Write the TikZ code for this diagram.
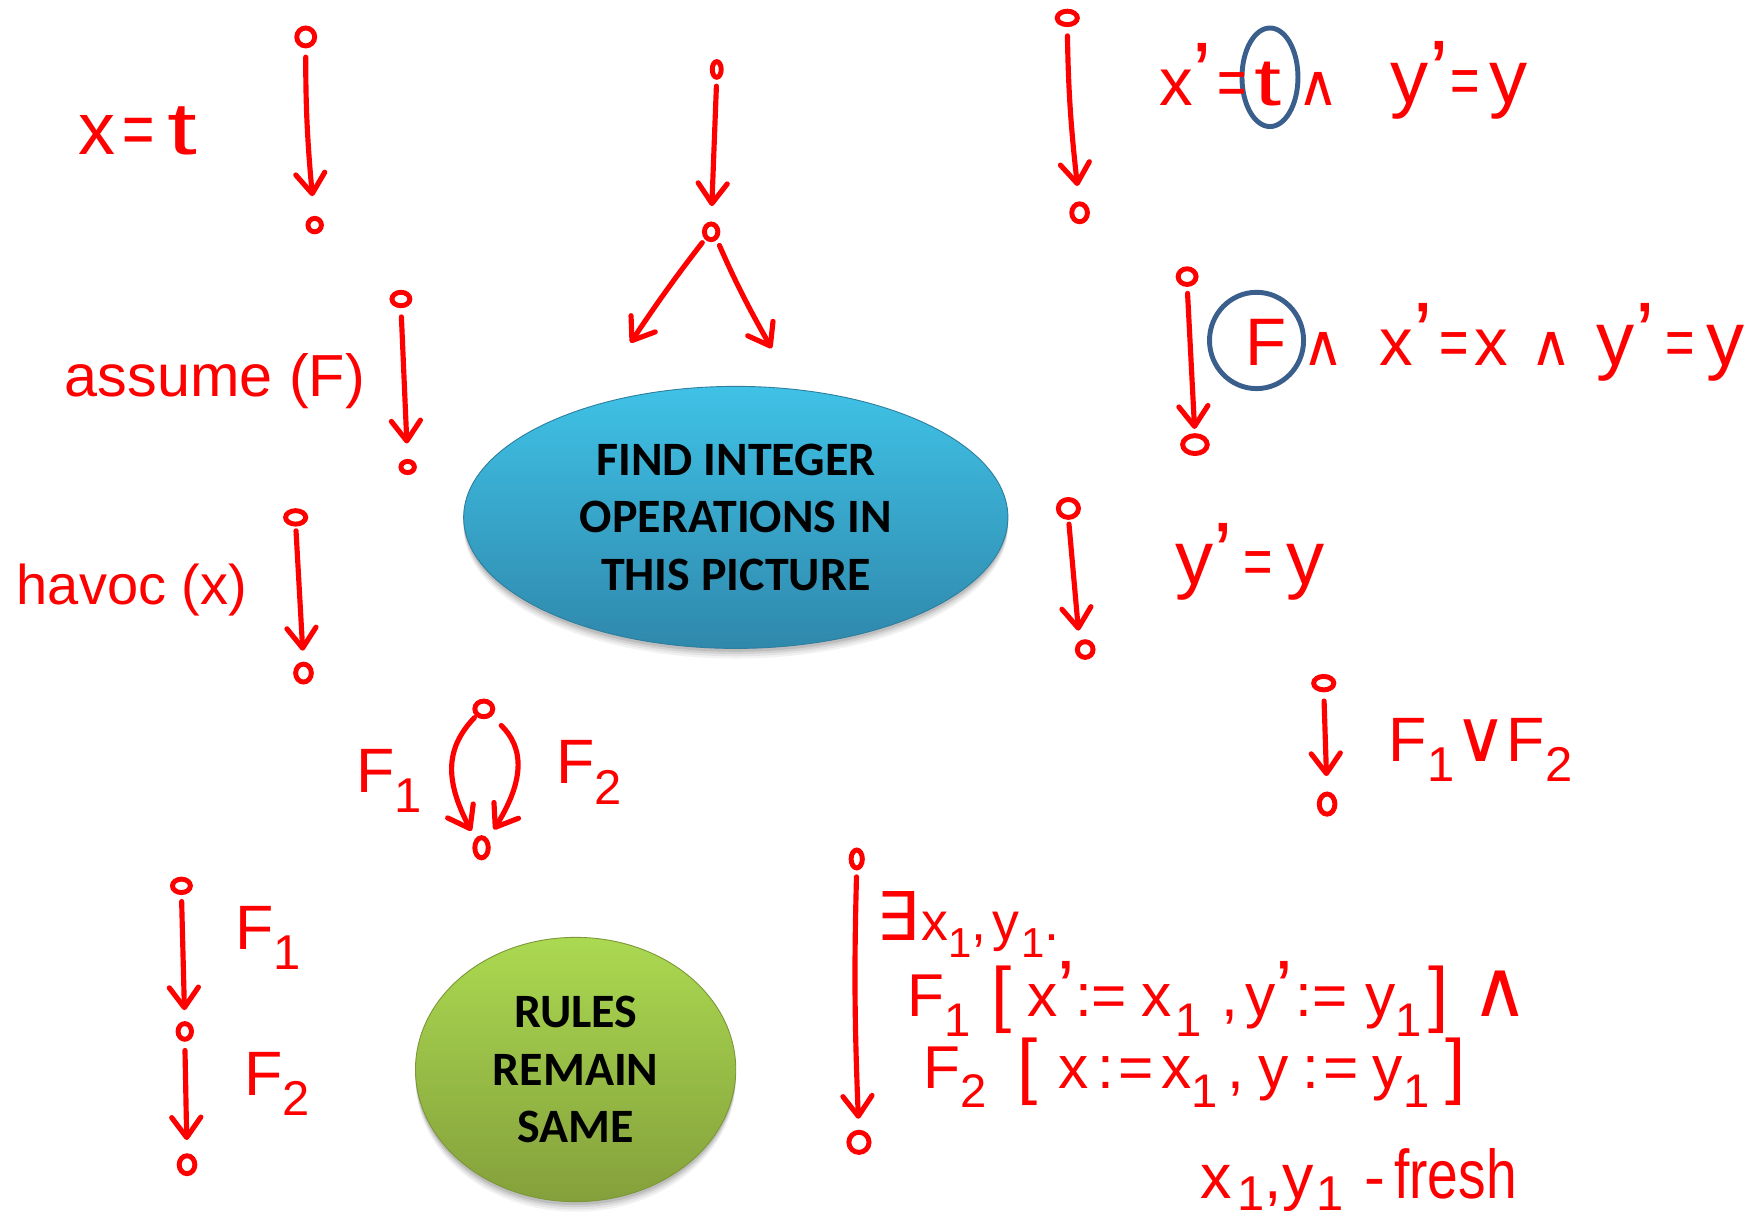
\documentclass[tikz,border=0pt]{standalone}
\usepackage{graphicx}
\usepackage{fontspec}
\setmainfont{Liberation Sans}
\newfontfamily\symf{DejaVu Sans}
\newfontfamily\boxf{Carlito}
\usetikzlibrary{arrows.meta,shapes.geometric,bending}
\definecolor{inkred}{HTML}{FF0000}
\definecolor{circblue}{HTML}{3A5F8C}
\definecolor{blueTop}{HTML}{3FC2E6}
\definecolor{blueBot}{HTML}{2F88AC}
\definecolor{blueEdge}{HTML}{2E7E9E}
\definecolor{greenTop}{HTML}{ABD951}
\definecolor{greenBot}{HTML}{84A03B}
\definecolor{greenEdge}{HTML}{7C9638}
\newcommand{\subn}[1]{\raisebox{-0.32em}{\fontsize{0.78em}{0.78em}\selectfont #1}}
\newcommand{\subl}[1]{\raisebox{-0.2em}{\fontsize{0.78em}{0.78em}\selectfont #1}}
\newcommand{\prm}{\raisebox{0.02em}{\fontsize{1.3em}{1.3em}\selectfont\char"27}}
\newcommand{\opand}{{\symf\fontsize{0.85em}{0.85em}\selectfont ∧}}
\newcommand{\opandb}{{\symf\fontsize{1.3em}{1.3em}\selectfont ∧}}
\newcommand{\opor}{{\symf\fontsize{1.15em}{1.15em}\selectfont ∨}}
\newcommand{\opex}{{\symf\fontsize{1.25em}{1.25em}\selectfont ∃}}
\newcommand{\fs}[1]{\fontsize{#1}{#1}\selectfont}
\newcommand{\eqn}{\scalebox{0.75}[1]{=}}
\newcommand{\tee}{\scalebox{1.45}[1]{t}}
\newcommand{\bkt}[1]{\raisebox{-0.03em}{\fontsize{1.2em}{1.2em}\selectfont #1}}
\newcommand{\bigy}{{\fs{34pt}y}}
\tikzset{
 vtx/.style={ellipse,draw=inkred,line width=2.2pt,inner sep=0pt,outer sep=0pt},
 arr/.style={draw=inkred,line width=2.3pt,line cap=round,-{Straight Barb[round,length=9pt,width=13pt,line width=2.3pt]}},
 hand/.style={text=inkred,anchor=base west,inner sep=0pt,outer sep=0pt},
 ring/.style={ellipse,draw=circblue,line width=2.2pt,inner sep=0pt},
 bubble/.style={ellipse,inner sep=0pt,align=center,text=black,font=\boxf\bfseries\fontsize{21.4pt}{25.8pt}\selectfont},
 shad/.style={ellipse,fill=black,inner sep=0pt,draw=none},
}
\begin{document}
\begin{tikzpicture}[x=0.5pt,y=-0.5pt]
\useasboundingbox (0,0) rectangle (1568,1097.4);
% shadows
\foreach \o/\g in {0.05/9,0.06/7,0.08/5,0.10/3}{
 \node[shad,opacity=\o,minimum width=243pt,minimum height=117pt] at (657,462+\g) {};
 \node[shad,opacity=\o,minimum width=143pt,minimum height=118pt] at (514,955+\g) {};
}
\node[bubble,top color=blueTop,bottom color=blueBot,draw=blueEdge,line width=.4pt,minimum width=243pt,minimum height=117pt] (blue) at (657,462) {FIND INTEGER\\OPERATIONS IN\\THIS PICTURE};
\node[bubble,top color=greenTop,bottom color=greenBot,draw=greenEdge,line width=.4pt,minimum width=143pt,minimum height=118pt] (green) at (514,955) {RULES\\REMAIN\\SAME};

% vertices
\node[vtx,minimum width=8pt,minimum height=8pt] (A1) at (273,33) {};
\node[vtx,minimum width=6pt,minimum height=6pt] (A2) at (281,201) {};
\node[vtx,minimum width=4pt,minimum height=7pt] (B1) at (640,62) {};
\node[vtx,minimum width=6pt,minimum height=7pt] (B2) at (635,207) {};
\node[vtx,minimum width=8pt,minimum height=6pt] (C1) at (358,267) {};
\node[vtx,minimum width=6pt,minimum height=5pt] (C2) at (364,417) {};
\node[vtx,minimum width=9pt,minimum height=6pt] (D1) at (264,462) {};
\node[vtx,minimum width=7pt,minimum height=8pt] (D2) at (271,601) {};
\node[vtx,minimum width=9pt,minimum height=6pt] (E1) at (953,16) {};
\node[vtx,minimum width=7pt,minimum height=8pt] (E2) at (964,190) {};
\node[vtx,minimum width=8pt,minimum height=7pt] (G1) at (1060,247) {};
\node[vtx,minimum width=11pt,minimum height=8pt] (G2) at (1067,397) {};
\node[vtx,minimum width=9pt,minimum height=8pt] (H1) at (954,454) {};
\node[vtx,minimum width=7pt,minimum height=7pt] (H2) at (969,580) {};
\node[vtx,minimum width=9pt,minimum height=6pt] (I1) at (1182,610) {};
\node[vtx,minimum width=7pt,minimum height=9pt] (I2) at (1185,718) {};
\node[vtx,minimum width=8pt,minimum height=7pt] (J1) at (432,633) {};
\node[vtx,minimum width=6pt,minimum height=9pt] (J2) at (430,757) {};
\node[vtx,minimum width=8pt,minimum height=6pt] (K1) at (162,791) {};
\node[vtx,minimum width=6pt,minimum height=7pt] (K2) at (165,921) {};
\node[vtx,minimum width=7pt,minimum height=8pt] (K3) at (167,1040) {};
\node[vtx,minimum width=5pt,minimum height=8pt] (L1) at (765,767) {};
\node[vtx,minimum width=9pt,minimum height=9pt] (L2) at (767,1020) {};
\coordinate (B3) at (563,306);
\coordinate (B4) at (689,311);

% connectors
\draw[arr,shorten <=5pt,shorten >=10pt] (A1.south) to[bend right=3] (A2.north);
\draw[arr,shorten <=4pt,shorten >=8pt] (B1.south) to (B2.north);
\draw[arr,shorten <=3pt] (B2.south west) to[bend right=2] (B3);
\draw[arr,shorten <=4pt] (B2.south east) to[bend right=3] (B4);
\draw[arr,shorten <=5pt,shorten >=8pt] (C1.south) to (C2.north);
\draw[arr,shorten <=3pt,shorten >=6pt] (D1.south) to (D2.north);
\draw[arr,shorten <=5pt,shorten >=8pt] (E1.south) to[bend right=3] (E2.north);
\draw[arr,shorten <=4pt,shorten >=3pt] (G1.south) to (G2.north);
\draw[arr,shorten <=3pt,shorten >=6pt] (H1.south) to (H2.north west);
\draw[arr,shorten <=5pt,shorten >=8pt] (I1.south) to (I2.north);
\draw[arr,shorten <=2pt,shorten >=5pt] (J1.south west) .. controls (396,670) and (396,700) .. (J2.north west);
\draw[arr,shorten <=7pt,shorten >=6pt] (J1.south east) .. controls (470,670) and (470,700) .. (J2.north east);
\draw[arr,shorten <=4pt,shorten >=6pt] (K1.south) to (K2.north);
\draw[arr,shorten <=5pt,shorten >=7pt] (K2.south) to (K3.north);
\draw[arr,shorten <=4pt,shorten >=6pt] (L1.south) to[bend right=2] (L2.north);

% rings
\node[ring,minimum width=25pt,minimum height=44pt] (ringT) at (1134,69) {};
\node[ring,minimum width=42pt,minimum height=43pt] (ringF) at (1122,304) {};

% labels
\node[hand,font=\fs{33pt}] (lxt) at (70,138) {x\hspace{3pt}\eqn\hspace{6pt}\tee};
\node[hand,font=\fs{26.5pt}] (lass) at (58,354) {assume (F)};
\node[hand,font=\fs{25pt}] (lhav) at (15,540) {havoc (x)};
\node[hand,font=\fs{30pt}] (lr1a) at (1035,94) {x\prm\hspace{2.5pt}\eqn\hspace{3.5pt}\tee\hspace{7pt}\opand};
\node[hand,font=\fs{30pt}] (lr1b) at (1242,92) {\bigy\prm\hspace{1pt}\eqn\hspace{4pt}\bigy};
\node[hand,font=\fs{30pt}] (lr2a) at (1112,326) {F\hspace{7pt}\opand};
\node[hand,font=\fs{30pt}] (lr2b) at (1232,326) {x\prm\hspace{3pt}\eqn\hspace{2.5pt}x\hspace{10pt}\opand\hspace{11pt}\bigy\prm\hspace{5pt}\eqn\hspace{5pt}\bigy};
\node[hand,font=\fs{30pt}] (lr3) at (1050,522) {\bigy\prm\hspace{4.5pt}\eqn\hspace{6pt}\bigy};
\node[hand,font=\fs{28pt}] (lor) at (1240,680) {F\subn{1}\hspace{0pt}\opor\hspace{0pt}F\subn{2}};
\node[hand,font=\fs{28pt}] (lj1) at (318,708) {F\subn{1}};
\node[hand,font=\fs{28pt}] (lj2) at (497,700) {F\subn{2}};
\node[hand,font=\fs{28pt}] (lk1) at (210,848) {F\subn{1}};
\node[hand,font=\fs{28pt}] (lk2) at (218,978) {F\subn{2}};
\node[hand,font=\fs{24pt}] (lq1) at (783,840) {\opex\hspace{1pt}x\subn{1},\hspace{2.5pt}y\hspace{1pt}\subn{1}.};
\node[hand,font=\fs{27pt}] (lq2) at (810,908) {F\subn{1}\hspace{9.5pt}\bkt{[}\hspace{7pt}x\prm:=\hspace{6.5pt}x\hspace{1.5pt}\subn{1}\hspace{9pt},\hspace{3pt}y\prm\hspace{1pt}:=\hspace{8pt}y\subn{1}\hspace{3pt}\bkt{]}\hspace{10pt}\opandb};
\node[hand,font=\fs{27pt}] (lq3) at (825,972) {F\subn{2}\hspace{13.5pt}\bkt{[}\hspace{9.5pt}x\hspace{4pt}:\hspace{1.5pt}=\hspace{3.5pt}x\subn{1}\hspace{4.5pt},\hspace{6pt}y\hspace{6.5pt}:\hspace{1.5pt}=\hspace{6.5pt}y\subn{1}\hspace{7pt}\bkt{]}};
\node[hand,font=\fs{28pt}] (lq4) at (1072,1070) {x\hspace{2.5pt}\subl{1},\hspace{0pt}y\hspace{1.5pt}\subl{1}\hspace{9pt}-\hspace{4pt}\scalebox{0.88}[1.1]{fresh}};
\end{tikzpicture}
\end{document}
